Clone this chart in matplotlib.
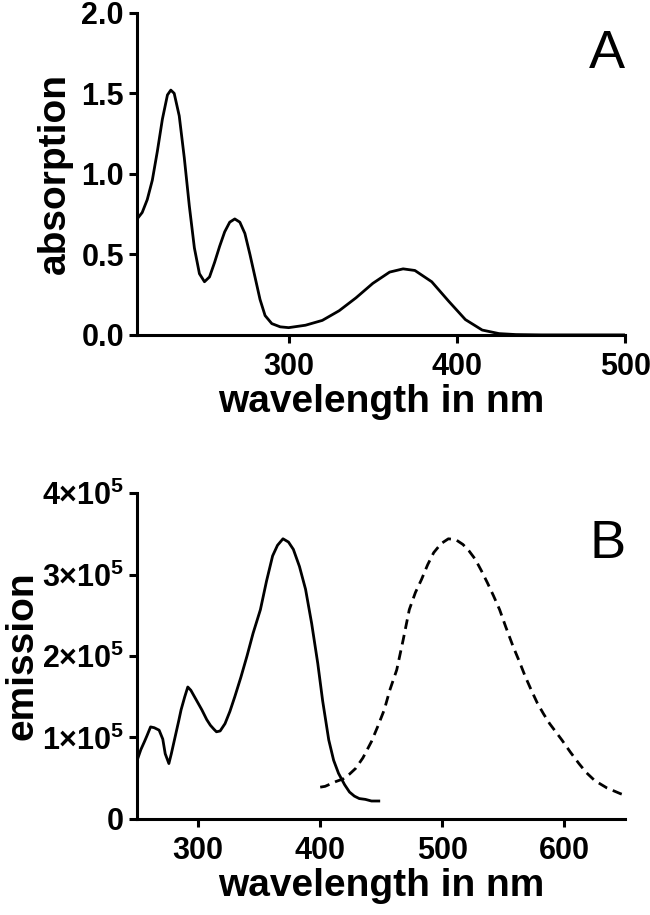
import numpy as np
import matplotlib
matplotlib.use('Agg')
import matplotlib.pyplot as plt

plt.rcParams['font.family'] = ['Liberation Sans', 'DejaVu Sans']
plt.rcParams['font.weight'] = 'bold'
plt.rcParams['mathtext.default'] = 'regular'

# A: absorption spectrum
abs_nm = [210, 213, 216, 219, 222, 225, 228, 230, 232, 235, 238, 241, 244, 247, 250,
          253, 256, 259, 262, 265, 268, 271, 274, 277, 280, 283, 286, 290, 295, 300,
          310, 320, 330, 340, 350, 360, 368, 375, 385, 395, 405, 415, 425, 435, 450, 500]
abs_val = [0.72, 0.76, 0.84, 0.96, 1.14, 1.34, 1.49, 1.52, 1.50, 1.36, 1.10, 0.80, 0.54,
           0.38, 0.33, 0.36, 0.45, 0.55, 0.64, 0.70, 0.72, 0.70, 0.63, 0.50, 0.36, 0.22,
           0.12, 0.07, 0.05, 0.045, 0.06, 0.09, 0.15, 0.23, 0.32, 0.39, 0.41, 0.40, 0.33,
           0.21, 0.095, 0.03, 0.008, 0.002, 0.0, 0.0]

# B: excitation (solid) and emission (dashed), in units of 1e5
exc_nm = [250, 253, 256, 258, 261, 264, 268, 271, 273, 276, 278, 281, 284, 286, 289,
          291.5, 294, 297, 300, 303, 307, 310, 313, 315, 318, 322, 326, 330, 335, 340,
          345, 351, 356, 361, 365, 369.5, 374, 378, 383, 388, 393, 398, 402, 407, 411,
          415, 420, 424, 428, 432, 437, 442, 448]
exc_val = [0.72, 0.85, 0.95, 1.02, 1.13, 1.12, 1.09, 0.98, 0.80, 0.68, 0.80, 1.00, 1.20,
           1.34, 1.50, 1.62, 1.58, 1.50, 1.42, 1.34, 1.22, 1.15, 1.10, 1.07, 1.08, 1.17,
           1.32, 1.50, 1.74, 2.00, 2.28, 2.57, 2.92, 3.23, 3.36, 3.44, 3.40, 3.31, 3.10,
           2.82, 2.40, 1.91, 1.45, 0.97, 0.72, 0.56, 0.42, 0.33, 0.28, 0.25, 0.24, 0.22, 0.22]

em_nm = [400, 404, 408.5, 413, 418.6, 424, 429, 435, 442, 447, 452.5, 457, 462.7, 468,
         473, 478, 483, 488, 493, 499, 505, 511, 517, 522, 527, 532, 537, 542, 547, 552,
         558, 563, 568, 573, 578, 583, 588, 593, 598, 605, 612, 618, 625, 635, 646, 650]
em_val = [0.39, 0.40, 0.43, 0.46, 0.49, 0.55, 0.62, 0.75, 0.95, 1.13, 1.34, 1.58, 1.83,
          2.20, 2.57, 2.78, 2.94, 3.12, 3.27, 3.38, 3.44, 3.43, 3.37, 3.29, 3.19, 3.05,
          2.90, 2.74, 2.57, 2.36, 2.12, 1.94, 1.75, 1.58, 1.42, 1.29, 1.17, 1.07, 0.97,
          0.82, 0.68, 0.57, 0.47, 0.38, 0.31, 0.29]

a_yticks = [0.0, 0.5, 1.0, 1.5, 2.0]
a_xticks = [300, 400, 500]
b_yticks = [0, 1, 2, 3, 4]
b_ytick_labels = ['0', r'1$\times$10$^{5}$', r'2$\times$10$^{5}$',
                  r'3$\times$10$^{5}$', r'4$\times$10$^{5}$']
b_xticks = [300, 400, 500, 600]

fig = plt.figure(figsize=(6.5, 9.15), dpi=100)
ax1 = fig.add_axes([0.211, 0.634, 0.751, 0.352])
ax2 = fig.add_axes([0.211, 0.105, 0.751, 0.356])


def style(ax):
    for s in ['top', 'right']:
        ax.spines[s].set_visible(False)
    for s in ['left', 'bottom']:
        ax.spines[s].set_linewidth(2.2)
    ax.tick_params(width=2.2, length=5.5, labelsize=22)
    ax.tick_params(axis='x', pad=7)
    ax.tick_params(axis='y', pad=4)
    for lab in ax.get_xticklabels() + ax.get_yticklabels():
        lab.set_fontweight('bold')


ax1.plot(abs_nm, abs_val, color='black', lw=2.0)
ax1.set_xlim(210, 500)
ax1.set_ylim(0, 2.0)
ax1.set_xticks(a_xticks)
ax1.set_yticks(a_yticks)
ax1.set_yticklabels(['%.1f' % v for v in a_yticks])
ax1.set_xlabel('wavelength in nm', fontsize=28, fontweight='bold', labelpad=1)
ax1.set_ylabel('absorption', fontsize=28, fontweight='bold', labelpad=6)
ax1.text(1.0, 0.83, 'A', transform=ax1.transAxes, ha='right', va='baseline',
         fontsize=39, fontweight='normal')
style(ax1)

ax2.plot(exc_nm, exc_val, color='black', lw=2.0)
ax2.plot(em_nm, em_val, color='black', lw=2.0, linestyle=(0, (3.5, 2.2)))
ax2.set_xlim(250, 650)
ax2.set_ylim(0, 4)
ax2.set_xticks(b_xticks)
ax2.set_yticks(b_yticks)
ax2.set_yticklabels(b_ytick_labels)
ax2.set_xlabel('wavelength in nm', fontsize=28, fontweight='bold', labelpad=1)
ax2.set_ylabel('emission', fontsize=28, fontweight='bold', labelpad=1)
ax2.text(1.0, 0.80, 'B', transform=ax2.transAxes, ha='right', va='baseline',
         fontsize=39, fontweight='normal')
style(ax2)

fig.savefig('out.png', dpi=100)
